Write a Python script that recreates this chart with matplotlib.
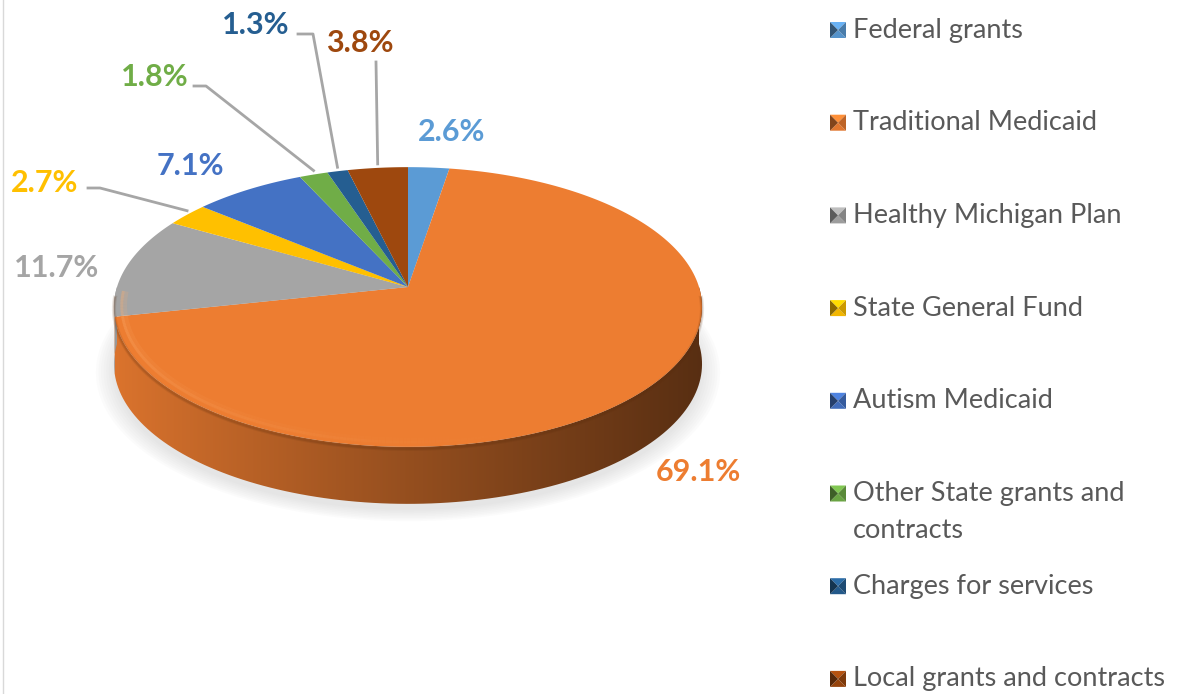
import textwrap
import numpy as np
import matplotlib.pyplot as plt
from matplotlib.patches import Polygon
from matplotlib.collections import LineCollection
from matplotlib.colors import to_rgb

# data
categories = ['Federal grants', 'Traditional Medicaid', 'Healthy Michigan Plan',
              'State General Fund', 'Autism Medicaid', 'Other State grants and contracts',
              'Charges for services', 'Local grants and contracts']
shares = [2.6, 69.1, 11.7, 2.7, 7.1, 1.8, 1.3, 3.8]
colors = ['#5B9BD5', '#ED7D31', '#A5A5A5', '#FFC000', '#4472C4', '#70AD47', '#255E91', '#9E480E']

# label layout: text centre, and leader line (start, elbow) or None
label_pos = [(452, 132), (698, 472), (57, 268), (45, 183), (190, 166), (155, 77), (256, 25), (360, 43)]
leaders = [None, None, None, ((88, 188), (100, 188)), None, ((194, 86), (206, 86)),
           ((298, 34), (313, 34)), ((376, 62), (376, 62))]

# pie geometry in pixel units (perspective-tilted disc)
cx, cy = 408, 287
A, B, k = 137, 291, 0.143
depth = 57

plt.rcParams['font.family'] = ['Lato', 'DejaVu Sans']

fig = plt.figure(figsize=(11.8, 6.94), dpi=100)
ax = fig.add_axes([0, 0, 1, 1])


def proj(theta, r=1.0, drop=0.0):
    u = r * np.cos(theta)
    v = r * np.sin(theta)
    s = 1 + k * v
    return cx + B * u / s, cy - A * v / s + drop


def shade(c, f):
    return tuple(np.clip(np.array(to_rgb(c)) * f, 0, 1))


# wedge angles: start at 12 o'clock, clockwise
fr = np.array(shares) / sum(shares)
edges = np.concatenate([[0], np.cumsum(fr)])
th_start = np.pi / 2 - 2 * np.pi * edges[:-1]
th_end = np.pi / 2 - 2 * np.pi * edges[1:]

# soft shadow under the pie
tt = np.linspace(0, 2 * np.pi, 300)
for sc in np.linspace(1.06, 1.0, 8):
    x, y = proj(tt, sc, depth + 6)
    ax.fill(x, y, color='#bdbdbd', alpha=0.05, lw=0, zorder=1)

xl, xr = cx - B * 1.02, cx + B * 1.02
grad_t = np.linspace(0, 1, 300)
fac = 0.93 - 0.56 * grad_t ** 0.9

# side walls (front half only)
for i in range(len(shares)):
    a0, a1 = th_end[i], th_start[i]
    segs = []
    for off in (0, -2 * np.pi, 2 * np.pi):
        s0, s1 = max(a0 + off, -np.pi), min(a1 + off, 0)
        if s1 > s0:
            segs.append((s0, s1))
    for s0, s1 in segs:
        t = np.linspace(s0, s1, 120)
        x1, y1 = proj(t)
        x2, y2 = proj(t, 1.0, depth)
        verts = np.column_stack([np.r_[x1, x2[::-1]], np.r_[y1, y2[::-1]]])
        poly = Polygon(verts, closed=True, facecolor='none', edgecolor='none')
        ax.add_patch(poly)
        img = np.array([[shade(colors[i], f) for f in fac]] * 2)
        im = ax.imshow(img, extent=(xl, xr, 560, 100),
                       aspect='auto', zorder=2, interpolation='bilinear')
        im.set_clip_path(poly)

# top surfaces
for i in range(len(shares)):
    t = np.linspace(th_start[i], th_end[i], 200)
    x, y = proj(t)
    ax.fill(np.r_[cx, x], np.r_[cy, y], color=colors[i], lw=0, zorder=3)

# soft bevel along the front rim, fading to the right
t = np.linspace(np.pi * 1.01, np.pi * 1.7, 200)
fade = np.linspace(1, 0, len(t) - 1) ** 1.5
for w, a, r in [(5.0, 0.16, 0.968), (2.0, 0.28, 0.974)]:
    x, y = proj(t, r)
    pts = np.column_stack([x, y]).reshape(-1, 1, 2)
    seg = np.concatenate([pts[:-1], pts[1:]], axis=1)
    cols = [(1.0, 0.69, 0.44, a * f) for f in fade]
    ax.add_collection(LineCollection(seg, colors=cols, linewidths=w, zorder=4))
t = np.linspace(np.pi * 1.02, np.pi * 1.98, 200)
for w, a in [(3.0, 0.12), (1.5, 0.18)]:
    x, y = proj(t, 1.0, 2.0)
    ax.plot(x, y, color='#5a2c0c', lw=w, alpha=a, zorder=4)

ax.set_xlim(0, 1180)
ax.set_ylim(694, 0)
ax.axis('off')

# data labels
for i in range(len(shares)):
    lx, ly = label_pos[i]
    ax.text(lx, ly, f'{shares[i]:.1f}%', color=colors[i], fontsize=22,
            fontweight='bold', ha='center', va='center', zorder=6)
    if leaders[i] is not None:
        mid = (th_start[i] + th_end[i]) / 2
        px, py = proj(mid, 1.0, -4)
        (sx, sy), (ex, ey) = leaders[i]
        ax.plot([sx, ex, px], [sy, ey, py], color='#A6A6A6', lw=2, zorder=5)

# legend
row_y0, row_step = 30, 92.7
for i, name in enumerate(categories):
    yy = row_y0 + i * row_step
    x0, x1, y0, y1 = 830, 846, yy - 8, yy + 8
    xm, ym = (x0 + x1) / 2, (y0 + y1) / 2
    tris = [([x0, x1, xm], [y0, y0, ym], 1.15), ([x0, x1, xm], [y1, y1, ym], 0.95),
            ([x0, x0, xm], [y0, y1, ym], 0.55), ([x1, x1, xm], [y0, y1, ym], 0.8)]
    for tx, ty, f in tris:
        ax.fill(tx, ty, color=shade(colors[i], f), lw=0, zorder=6)
    for j, line in enumerate(textwrap.wrap(name, 26)):
        ax.text(853, yy + j * 37, line, color='#595959', fontsize=19.5,
                ha='left', va='center', zorder=6)

ax.plot([3, 3], [0, 694], color='#D9D9D9', lw=1, zorder=0)

fig.savefig('out.png', dpi=100)
